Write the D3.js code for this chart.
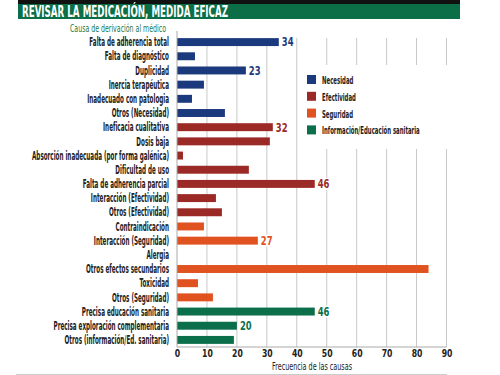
<!DOCTYPE html>
<html lang="es">
<head>
<meta charset="UTF-8">
<title>Revisar la medicación</title>
<script src="https://d3js.org/d3.v7.min.js"></script>
<style>
  body { margin: 0; background: #fff; }
  text { font-family: "Liberation Sans Narrow", "DejaVu Sans Condensed", sans-serif; }
</style>
</head>
<body>
<svg width="500" height="375"></svg>
<script>
// datos
const causes = [
  "Falta de adherencia total", "Falta de diagnóstico", "Duplicidad", "Inercia terapéutica",
  "Inadecuado con patologia", "Otros (Necesidad)",
  "Ineficacia cualitativa", "Dosis baja", "Absorción inadecuada (por forma galénica)",
  "Dificultad de uso", "Falta de adherencia parcial", "Interacción (Efectividad)", "Otros (Efectividad)",
  "Contraindicación", "Interacción (Seguridad)", "Alergia", "Otros efectos secundarios",
  "Toxicidad", "Otros (Seguridad)",
  "Precisa educación sanitaria", "Precisa exploración complementaria", "Otros (información/Ed. sanitaria)"
];
const values = [34, 6, 23, 9, 5, 16, 32, 31, 2, 24, 46, 13, 15, 9, 27, 0, 84, 7, 12, 46, 20, 19];
const groups = ["N", "N", "N", "N", "N", "N", "E", "E", "E", "E", "E", "E", "E",
                "S", "S", "S", "S", "S", "S", "I", "I", "I"];
const labelled = [34, null, 23, null, null, null, 32, null, null, null, 46, null, null,
                  null, 27, null, null, null, null, 46, 20, null];
const groupKeys = ["N", "E", "S", "I"];
const groupNames = ["Necesidad", "Efectividad", "Seguridad", "Información/Educación sanitaria"];
const groupColors = ["#1b3a7d", "#9b2a26", "#e0521f", "#0b6f4b"];
const xTicks = [0, 10, 20, 30, 40, 50, 60, 70, 80, 90];

const svg = d3.select("svg");
const color = d3.scaleOrdinal().domain(groupKeys).range(groupColors);

const x = d3.scaleLinear().domain([0, 90]).range([177, 446.5]);
const y = d3.scaleBand().domain(causes).range([35, 347]).paddingInner(0.44).paddingOuter(0.22);

// estrecha un texto para imitar la fuente condensada del original
function squeeze(sel, k) {
  sel.each(function () {
    const w = this.getComputedTextLength();
    d3.select(this).attr("textLength", w * k).attr("lengthAdjust", "spacingAndGlyphs");
  });
}

// cabecera
svg.append("rect").attr("x", 18).attr("y", 0).attr("width", 442).attr("height", 4).attr("fill", "#111");
svg.append("rect").attr("x", 18).attr("y", 4).attr("width", 442).attr("height", 15).attr("fill", "#0b6e47");
svg.append("text").attr("x", 22).attr("y", 16.5)
  .attr("fill", "#fff").attr("font-size", 15).attr("font-weight", "bold")
  .attr("textLength", 206).attr("lengthAdjust", "spacingAndGlyphs")
  .text("REVISAR LA MEDICACIÓN, MEDIDA EFICAZ");

svg.append("text").attr("x", 70).attr("y", 32)
  .attr("fill", "#1a7a4c").attr("font-size", 11)
  .attr("textLength", 96).attr("lengthAdjust", "spacingAndGlyphs")
  .text("Causa de derivación al médico");

// rejilla
svg.append("g").selectAll("line")
  .data(xTicks.slice(1))
  .join("line")
  .attr("x1", d => x(d)).attr("x2", d => x(d))
  .attr("y1", 38).attr("y2", 347)
  .attr("stroke", "#c8c8c8").attr("stroke-width", 1);

// fondo blanco de la leyenda
svg.append("rect").attr("x", 301).attr("y", 65).attr("width", 170).attr("height", 84).attr("fill", "#fff");

// barras
svg.append("g").selectAll("rect")
  .data(causes)
  .join("rect")
  .attr("x", x(0))
  .attr("y", d => y(d))
  .attr("width", (d, i) => x(values[i]) - x(0))
  .attr("height", y.bandwidth())
  .attr("fill", (d, i) => color(groups[i]));

// etiquetas de valor
const vl = svg.append("g").selectAll("g")
  .data(causes.map((c, i) => ({ c, i })).filter(d => labelled[d.i] !== null))
  .join("g")
  .attr("transform", d => `translate(${x(values[d.i]) + 2},${y(d.c) + y.bandwidth() / 2})`);
vl.append("rect").attr("x", 0).attr("y", -6).attr("width", 12).attr("height", 12).attr("fill", "#fff");
vl.append("text")
  .attr("x", 1).attr("dy", "0.36em")
  .attr("font-size", 12).attr("font-weight", "bold")
  .attr("fill", d => color(groups[d.i]))
  .text(d => labelled[d.i])
  .call(squeeze, 0.78);

// eje
svg.append("line").attr("x1", x(0)).attr("x2", x(0)).attr("y1", 31).attr("y2", 347)
  .attr("stroke", "#aaa");
svg.append("line").attr("x1", x(0)).attr("x2", x(90)).attr("y1", 347).attr("y2", 347)
  .attr("stroke", "#aaa");

const xAxis = svg.append("g").attr("transform", "translate(0,347)")
  .call(d3.axisBottom(x).tickValues(xTicks).tickSize(0).tickPadding(2));
xAxis.select(".domain").remove();
xAxis.selectAll("text")
  .attr("font-family", "'Liberation Sans Narrow', sans-serif")
  .attr("font-size", 11).attr("font-weight", "bold").attr("fill", "#222")
  .call(squeeze, 0.78);

svg.append("text").attr("x", 272).attr("y", 370)
  .attr("font-size", 10).attr("fill", "#222")
  .attr("textLength", 80).attr("lengthAdjust", "spacingAndGlyphs")
  .text("Frecuencia de las causas");

svg.append("line").attr("x1", 16).attr("x2", 447).attr("y1", 374.5).attr("y2", 374.5)
  .attr("stroke", "#ccc");

// nombres de las causas
const names = svg.append("g").selectAll("text")
  .data(causes)
  .join("text")
  .attr("x", 169)
  .attr("y", d => y(d) + y.bandwidth() / 2)
  .attr("text-anchor", "end")
  .attr("dy", "0.36em")
  .attr("font-size", 11.5).attr("font-weight", "bold").attr("fill", "#222")
  .text(d => d);
const widest = d3.max(names.nodes(), n => n.getComputedTextLength());
const sx = 137 / widest;
names.call(squeeze, sx);

// leyenda
const leg = svg.append("g").selectAll("g")
  .data(groupKeys)
  .join("g")
  .attr("transform", (d, i) => `translate(307,${75 + i * 16.8})`);
leg.append("rect").attr("width", 9).attr("height", 9).attr("fill", d => color(d));
leg.append("text").attr("x", 15).attr("y", 5).attr("dy", "0.36em")
  .attr("font-size", 11).attr("font-weight", "bold").attr("fill", "#222")
  .text((d, i) => groupNames[i])
  .call(squeeze, sx);
</script>
</body>
</html>
